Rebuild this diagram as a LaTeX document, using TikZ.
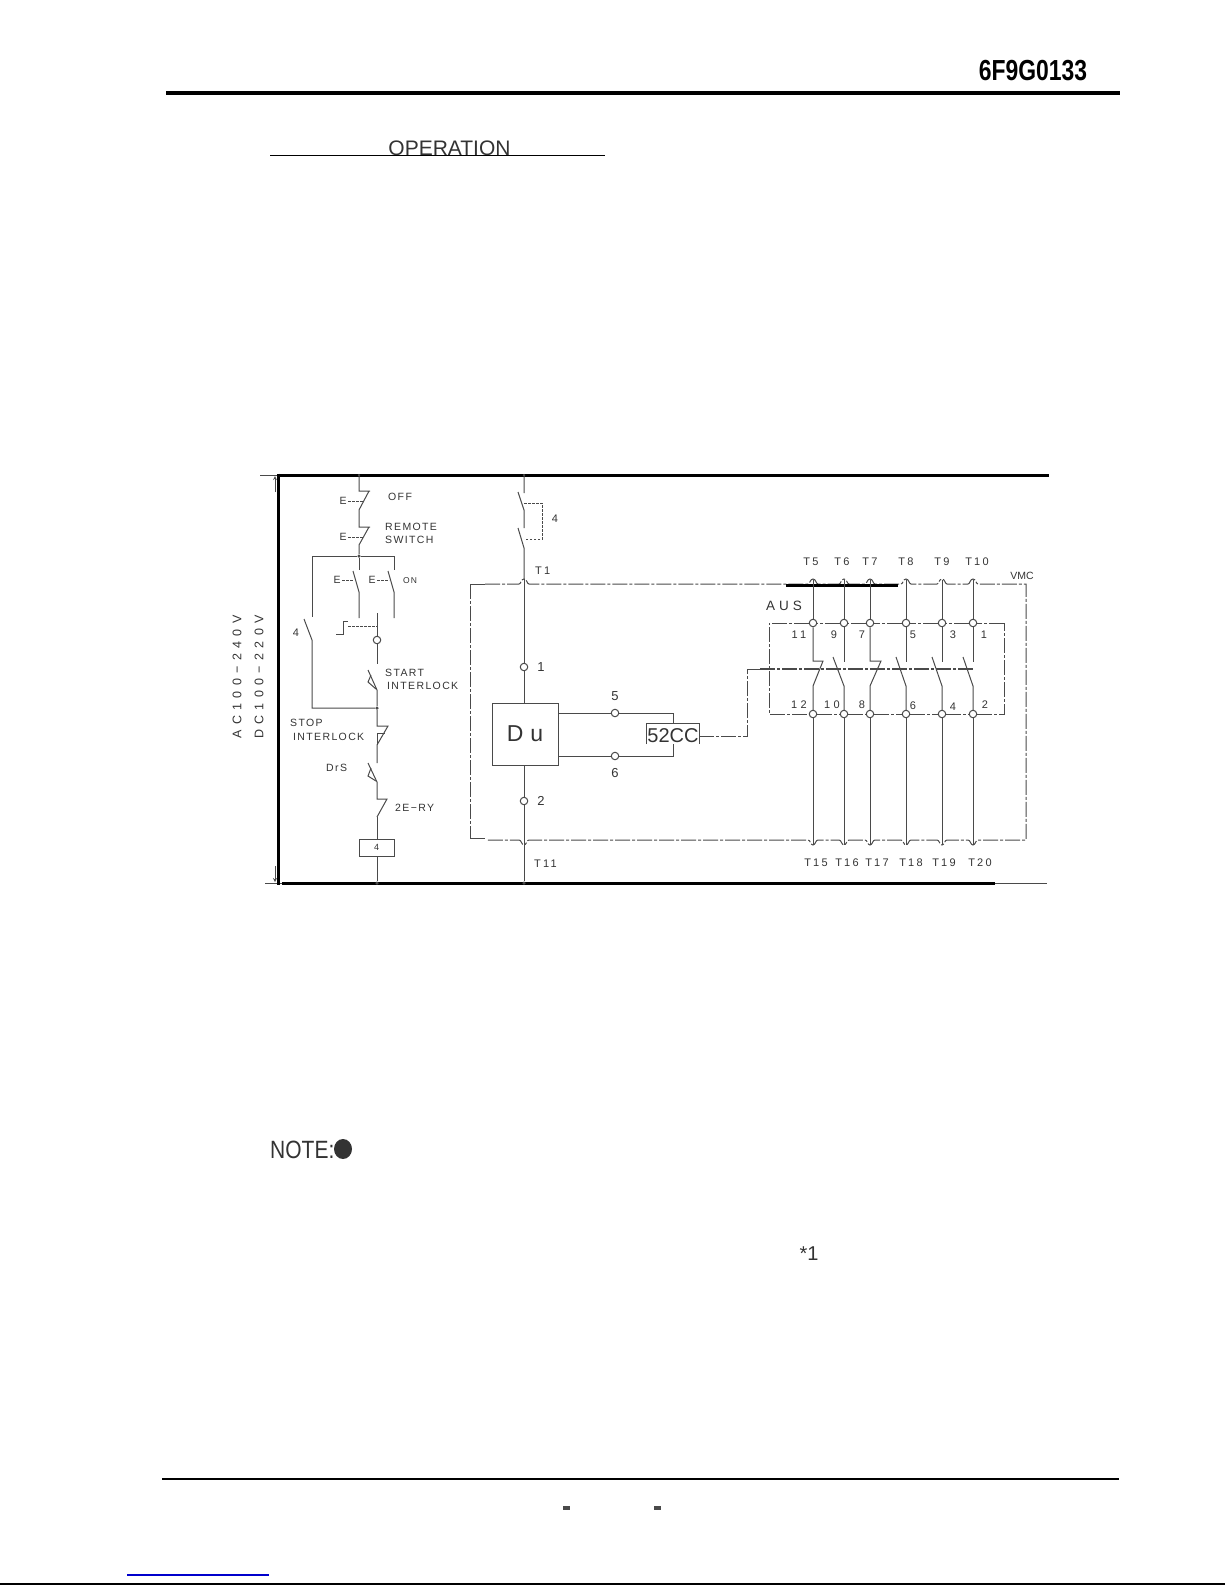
\documentclass[tikz,border=0pt]{standalone}
\usepackage{fontspec}
\usepackage{graphicx}
\setmainfont{Liberation Sans}
\newfontfamily\lblfont[LetterSpace=13]{Liberation Sans}
\newfontfamily\tfont[LetterSpace=20]{Liberation Sans}
\newfontfamily\widefont[LetterSpace=30]{Liberation Sans}
\newfontfamily\volfont[LetterSpace=43]{Liberation Sans}
\definecolor{ln}{HTML}{4A4A4A}
\definecolor{tx}{HTML}{333333}
\tikzset{
  wr/.style={draw=ln,line width=1pt},
  rail/.style={draw=ln,line width=1pt,dash pattern=on 15pt off 2pt on 3pt off 2pt},
  ctl/.style={draw=ln,line width=0.8pt,dash pattern=on 2.5pt off 1.5pt},
  heavy/.style={draw=black,line width=3pt},
  term/.style={circle,draw=ln,line width=1pt,fill=white,minimum size=7.5pt,inner sep=0pt},
  dotn/.style={circle,fill=ln,minimum size=3.5pt,inner sep=0pt},
  lbl/.style={inner sep=0pt,text=tx,font=\lblfont\fontsize{10.5}{10.5}\selectfont},
  tl/.style={inner sep=0pt,text=tx,font=\tfont\fontsize{11}{11}\selectfont},
  num/.style={inner sep=0pt,text=tx,font=\fontsize{11}{11}\selectfont},
  numb/.style={inner sep=0pt,text=tx,font=\fontsize{13}{13}\selectfont},
  wide/.style={inner sep=0pt,text=tx,font=\widefont\fontsize{11}{11}\selectfont},
  vol/.style={inner sep=0pt,text=tx,rotate=90,font=\volfont\fontsize{12.5}{12.5}\selectfont},
  boxn/.style={draw=ln,line width=1pt,inner sep=0pt},
}
\begin{document}
\begin{tikzpicture}[x=1pt,y=-1pt]
\useasboundingbox (0,0) rectangle (1225,1585);
% page furniture
\node[inner sep=0pt,text=black,font=\bfseries\fontsize{29}{29}\selectfont] (docno) at (1033,71) {\scalebox{0.79}[1]{6F9G0133}};
\coordinate (hl) at (166,92.5); \coordinate (hr) at (1120,92.5);
\draw[black,line width=4pt] (hl) -- (hr);
\node[anchor=base,inner sep=0pt,text=tx,font=\fontsize{21}{21}\selectfont] (oper) at (449.5,155) {OPERATION};
\coordinate (tl) at (270,155); \coordinate (tr) at (605,155);
\draw[black,line width=1pt] (tl) -- (tr);
\node[anchor=west,inner sep=0pt,text=tx,font=\fontsize{25}{25}\selectfont] (note) at (270,1150) {\scalebox{0.84}[1]{NOTE:}};
\fill[tx] (343,1149) ellipse (9 and 10);
\node[inner sep=0pt,text=tx,font=\fontsize{20}{20}\selectfont] (star) at (809,1254) {*1};
\coordinate (fl) at (162,1479); \coordinate (fr) at (1119,1479);
\draw[black,line width=2.5pt] (fl) -- (fr);
\fill[ln] (563,1506) rectangle (570,1509.5);
\fill[ln] (653.5,1506) rectangle (660.5,1509.5);
\coordinate (ll) at (127,1575); \coordinate (lr) at (269,1575);
\draw[blue!80!black,line width=1.3pt] (ll) -- (lr);
\coordinate (bl) at (0,1584.2); \coordinate (br) at (1225,1584.2);
\draw[black,line width=1.5pt] (bl) -- (br);

% frame
\coordinate (f1) at (277,475); \coordinate (f2) at (1049,475);
\coordinate (f4) at (282,883); \coordinate (f5) at (995,883); \coordinate (f6) at (1047,883);
\coordinate (t1) at (260,475); \coordinate (t2) at (265,883);
\coordinate (ar1) at (275,492); \coordinate (ar2) at (275,866);
\coordinate (ar3) at (275,476); \coordinate (ar4) at (275,882);
\draw[wr] (t1) -- (f1); \draw[wr] (t2) -- (f4); \draw[wr] (f5) -- (f6);
\draw[ln,line width=0.8pt,->,>=stealth] (ar1) -- (ar3);
\draw[ln,line width=0.8pt,->,>=stealth] (ar2) -- (ar4);
\draw[heavy] (278,473.5) -- (278,884.5);
\draw[heavy] (f1) -- (f2);
\draw[heavy] (f4) -- (f5);

\node[vol] (vac) at (237,677) {AC100−240V};
\node[vol] (vdc) at (259,677) {DC100−220V};

% left ladder
\coordinate (a0) at (359,475); \coordinate (a1) at (359,491); \coordinate (a2) at (370,491); \coordinate (a3) at (359,510);
\coordinate (a4) at (359,527); \coordinate (a5) at (370,527); \coordinate (a6) at (359,545);
\node[dotn] (j1) at (359,556) {};
\node[dotn,minimum size=2.5pt] at (a0) {};
\draw[wr] (a0) -- (a1) -- (a2) (369,491) -- (a3) -- (a4) -- (a5) (369,527) -- (a6) -- (j1);
\node[lbl] (e1) at (343,501) {E}; \node[lbl] (e2) at (343,537) {E};
\coordinate (e1b) at (364,501); \coordinate (e2b) at (364,537);
\draw[ctl] (e1) ++(5,0) -- (e1b); \draw[ctl] (e2) ++(5,0) -- (e2b);
\node[lbl,anchor=west] (off) at (388,497) {OFF};
\node[lbl,anchor=west] (rem) at (385,527) {REMOTE};
\node[lbl,anchor=west] (swi) at (385,540) {SWITCH};

\coordinate (b1) at (312,556); \coordinate (b2) at (394,556);
\draw[wr] (b1) -- (j1) -- (b2);
\coordinate (c1) at (359,570); \coordinate (c2) at (394,570);
\draw[wr] (j1) -- (c1) (b2) -- (c2) (b1) -- (312,617);
\draw[wr] (353,571) -- (359,592) -- (359,618);
\draw[wr] (388,571) -- (394,592) -- (394,618);
\node[lbl] (e3) at (337,580) {E}; \node[lbl] (e4) at (372,580) {E};
\coordinate (e3b) at (354,580); \coordinate (e4b) at (389,580);
\draw[ctl] (e3) ++(5,0) -- (e3b); \draw[ctl] (e4) ++(5,0) -- (e4b);
\node[lbl,anchor=west,font=\lblfont\fontsize{8.5}{8.5}\selectfont] (on) at (403,581) {ON};

\node[dotn] (j2) at (377,708) {};
\draw[wr] (304,619) -- (312,640) -- (312,708) -- (j2);
\node[num] (n4a) at (296,633) {4};

\node[term] (cir) at (377,640) {};
\draw[wr] (377,613) -- (cir);
\draw[wr] (336,634) -- (343,634) -- (343,621) -- (348,621);
\draw[ctl] (348,626) -- (377,626);
% start interlock
\draw[wr] (cir) -- (377,664);
\draw[wr] (368,670) -- (377,690) -- (j2);
\draw[wr] (371,675) -- (368,682) -- (376,689);
\node[lbl,anchor=west] (sta) at (385,673) {START};
\node[lbl,anchor=west] (int1) at (387,686) {INTERLOCK};
% stop interlock
\draw[wr] (j2) -- (377,726) -- (388,726) -- (377,745) -- (377,763);
\draw[wr] (377,733) -- (385,733) (377,733) -- (377,745);
\node[lbl,anchor=west] (sto) at (290,723) {STOP};
\node[lbl,anchor=west] (int2) at (293,737) {INTERLOCK};
% DrS
\draw[wr] (368,763) -- (377,782) -- (377,799) -- (387,799) -- (377,817);
\draw[wr] (371,768) -- (368,776) -- (376,781);
\node[lbl,anchor=west] (drs) at (326,768) {DrS};
\node[lbl,anchor=west] (ery) at (395,808) {2E−RY};
\node[boxn,minimum width=35pt,minimum height=17pt,text=tx,font=\fontsize{9}{9}\selectfont] (coil) at (376.5,847.5) {4};
\node[dotn] (j3) at (377,883) {};
\draw[wr] (377,817) -- (coil.north -| 377,0);
\draw[wr] (coil.south -| 377,0) -- (j3);

% control box rail
\coordinate (s1) at (485,584); \coordinate (s2) at (470,584); \coordinate (s3) at (470,838); \coordinate (s4) at (485,838);
\draw[wr] (s1) -- (s2);
\draw[wr] (s3) -- (s4);
\draw[rail] (s2) -- (s3);
\draw[rail] (s1)
  foreach \x in {524,813,844,870,906,942,973} {
    -- ({\x-5},584) .. controls ({\x-3},584) and ({\x-3},579) .. (\x,579) .. controls ({\x+3},579) and ({\x+3},584) .. ({\x+5},584)
  } -- (1026,584) -- (1026,840)
  foreach \x in {973,942,906,870,844,813,524} {
    -- ({\x+5},840) .. controls ({\x+2.5},840) and ({\x+2.5},845) .. (\x,845) .. controls ({\x-2.5},845) and ({\x-2.5},840) .. ({\x-5},840)
  } -- (486,840);
\node[text=tx,inner sep=0pt,font=\fontsize{10.5}{10.5}\selectfont] (vmc) at (1022,576) {VMC};
\coordinate (th1) at (786,585); \coordinate (th2) at (898,585);
\draw[heavy] (th1) -- (th2);

% main line
\coordinate (m0) at (524,475); \coordinate (m1) at (524,493); \coordinate (m2) at (524,510);
\coordinate (m3) at (524,528); \coordinate (m4) at (524,548); \coordinate (m5) at (524,579);
\node[dotn,minimum size=2.5pt] at (m0) {};
\draw[wr] (m0) -- (m1) (518,492) -- (m2) -- (m3) (518,528) -- (m4) -- (m5);
\draw[ctl] (524,503) -- (542,503) -- (542,539) -- (524,539);
\node[num] (n4b) at (555,519) {4};
\node[tl,anchor=west] (lt1) at (535,571) {T1};
\node[term] (p1) at (524,667) {};
\node[term] (p2) at (524,801) {};
\node[numb] (n1) at (541,667) {1};
\node[numb] (n2) at (541,801) {2};
\node[boxn,minimum width=66pt,minimum height=62pt,text=tx,font=\widefont\fontsize{23}{23}\selectfont] (du) at (525,734) {Du};
\node[dotn] (j4) at (524,883) {};
\draw[wr] (m5) -- (p1);
\draw[wr] (p1) -- (p1 |- du.north);
\draw[wr] (p2 |- du.south) -- (p2);
\draw[wr] (p2) -- (j4);
\node[tl,anchor=west] (lt11) at (534,864) {T11};

% coil 52CC
\node[term] (p5) at (615,713) {};
\node[term] (p6) at (615,756) {};
\node[numb] (n5) at (615,696) {5};
\node[numb] (n6) at (615,773) {6};
\node[inner sep=0pt,text=tx,font=\fontsize{20}{20}\selectfont] (cc) at (673,736) {52CC};
\coordinate (cs1) at (673,713); \coordinate (cs2) at (673,756);
\draw[wr] (du.east |- p5) -- (p5); \draw[wr] (p5) -- (cs1) -- (673,723);
\draw[wr] (du.east |- p6) -- (p6); \draw[wr] (p6) -- (cs2) -- (673,744);
\draw[wr,line width=0.6pt] (646,744) -- (646,723) -- (699,723) -- (699,744);
\coordinate (k1) at (699,736); \coordinate (k2) at (747,736); \coordinate (k3) at (747,669);
\coordinate (k4) at (760,669); \coordinate (k5) at (973,669);
\draw[rail] (k1) -- (k2) -- (k3);
\draw[wr] (k3) -- (k4);
\draw[rail,line width=1.1pt] (k4) -- (k5);

% contact columns
\coordinate (ra) at (769,623); \coordinate (rb) at (1004,623);
\coordinate (rc) at (769,714); \coordinate (rd) at (1004,714);
\foreach \n/\x in {a/813,b/844,c/870,d/906,e/942,f/973} {
  \node[term] (u\n) at (\x,623) {};
  \node[term] (l\n) at (\x,714) {};
  \coordinate (top\n) at (\x,580);
  \coordinate (bot\n) at (\x,845);
  \draw[wr] (top\n) -- (u\n);
  \draw[wr] (l\n) -- (bot\n);
}
\draw[rail] (rb) -- (uf) -- (ue) -- (ud) -- (uc) -- (ub) -- (ua) -- (ra) -- (rc) -- (la) -- (lb) -- (lc) -- (ld) -- (le) -- (lf) -- (rd) -- (rb);
% contacts
\draw[wr] (ua) -- (813,661) -- (823,661) -- (813,686) -- (la);
\draw[wr] (uc) -- (870,661) -- (881,661) -- (870,686) -- (lc);
\draw[wr] (ub) -- (844,662); \draw[wr] (833,657) -- (844,686) -- (lb);
\draw[wr] (ud) -- (906,662); \draw[wr] (896,657) -- (906,686) -- (ld);
\draw[wr] (ue) -- (942,662); \draw[wr] (932,657) -- (942,686) -- (le);
\draw[wr] (uf) -- (973,662); \draw[wr] (963,657) -- (973,686) -- (lf);

\node[inner sep=0pt,text=tx,font=\widefont\fontsize{13.5}{13.5}\selectfont] (aus) at (784,606) {AUS};
\foreach \nm/\x/\t in {q1/811/T5,q2/842/T6,q3/870/T7,q4/906/T8,q5/942/T9,q6/977/T10} { \node[tl] (\nm) at (\x,562) {\t}; }
\foreach \nm/\x/\t in {w1/816/T15,w2/847/T16,w3/877/T17,w4/911/T18,w5/944/T19,w6/980/T20} { \node[tl] (\nm) at (\x,863) {\t}; }
\node[wide] (v11) at (799,635) {11};
\node[num] (v9) at (834,635) {9};
\node[num] (v7) at (862,635) {7};
\node[num] (v5) at (913,635) {5};
\node[num] (v3) at (953,635) {3};
\node[num] (v1) at (984,635) {1};
\node[wide] (v12) at (799,705) {12};
\node[wide] (v10) at (832,705) {10};
\node[num] (v8) at (862,705) {8};
\node[num] (v6) at (913,706) {6};
\node[num] (v4) at (953,707) {4};
\node[num] (v2) at (985,705) {2};
\end{tikzpicture}
\end{document}
